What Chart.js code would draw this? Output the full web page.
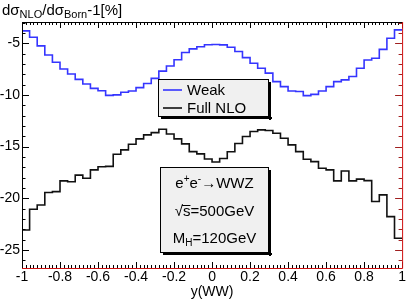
<!DOCTYPE html>
<html lang="en">
<head>
<meta charset="UTF-8">
<title>WWZ rapidity</title>
<script src="https://cdn.jsdelivr.net/npm/chart.js"></script>
<style>
  html, body { margin: 0; padding: 0; background: #fff; }
</style>
</head>
<body>
<canvas id="chart" width="407" height="301"></canvas>
<script>
// histogram range, 50 bins
const binLow = -1, binHigh = 1;

const weakVals = [
  -3.81, -4.42, -5.26, -6.14, -6.85, -7.50, -7.98, -8.50, -8.95, -9.37,
  -9.60, -10.05, -10.00, -9.75, -9.63, -9.30, -8.90, -8.40, -7.70, -7.20,
  -6.60, -5.90, -5.55, -5.35, -5.15, -5.12, -5.16, -5.39, -5.81, -6.40,
  -6.94, -7.42, -7.90, -8.72, -9.20, -9.62, -9.68, -10.07, -9.95, -9.62,
  -9.20, -8.72, -8.55, -8.23, -7.42, -6.62, -6.45, -5.60, -4.52, -3.71
];
const fullVals = [
  -23.07, -21.06, -20.65, -19.45, -19.36, -18.32, -18.40, -17.76, -18.06, -17.26,
  -16.95, -16.92, -15.74, -15.32, -14.78, -14.26, -13.87, -13.65, -13.33, -13.78,
  -14.26, -14.74, -15.49, -15.71, -16.20, -16.50, -16.15, -15.50, -14.70, -14.03,
  -13.55, -13.39, -13.45, -13.71, -14.20, -14.84, -15.49, -16.23, -16.46, -17.10,
  -17.26, -18.32, -17.36, -18.32, -18.15, -18.30, -20.32, -19.68, -21.78, -23.87
];
const seriesNames = ['Weak', 'Full NLO'];
const xTickVals = [-1, -0.8, -0.6, -0.4, -0.2, 0, 0.2, 0.4, 0.6, 0.8, 1];
const yTickVals = [-25, -20, -15, -10, -5];

const FONT = '"Liberation Sans", Arial, Helvetica, sans-serif';

// bin values -> step points (left edges + closing right edge)
function toSteps(vals) {
  const w = (binHigh - binLow) / vals.length;
  const pts = vals.map((v, i) => ({ x: binLow + i * w, y: v }));
  pts.push({ x: binHigh, y: vals[vals.length - 1] });
  return pts;
}

// draw text pieces with sub/superscripts, returns end x
function richText(ctx, parts, x, y) {
  parts.forEach(p => {
    ctx.font = p.size + 'px ' + FONT;
    ctx.fillText(p.t, x, y + (p.dy || 0));
    x += ctx.measureText(p.t).width;
  });
  return x;
}
function richWidth(ctx, parts) {
  let w = 0;
  parts.forEach(p => { ctx.font = p.size + 'px ' + FONT; w += ctx.measureText(p.t).width; });
  return w;
}

function shadowBox(ctx, x0, y0, x1, y1) {
  ctx.fillStyle = '#000';
  ctx.fillRect(x0 + 3, y1, x1 - x0, 2);
  ctx.fillRect(x1, y0 + 3, 2, y1 - y0);
  ctx.fillStyle = '#f0f0f0';
  ctx.fillRect(x0, y0, x1 - x0, y1 - y0);
  ctx.strokeStyle = '#000';
  ctx.lineWidth = 1;
  ctx.strokeRect(x0 + 0.5, y0 + 0.5, x1 - x0 - 1, y1 - y0 - 1);
}

const rootDecor = {
  id: 'rootDecor',
  afterDraw(chart) {
    const { ctx, chartArea: a, scales: { x, y } } = chart;
    ctx.save();
    ctx.lineWidth = 1;

    // x ticks, top and bottom
    for (let i = 0; i <= 100; i++) {
      const v = binLow + i * 0.02;
      const px = Math.round(x.getPixelForValue(v)) + 0.5;
      const len = i % 10 === 0 ? 6 : 3;
      ctx.strokeStyle = '#000';
      ctx.beginPath();
      ctx.moveTo(px, a.top); ctx.lineTo(px, a.top + len);
      ctx.moveTo(px, a.bottom); ctx.lineTo(px, a.bottom - len);
      ctx.stroke();
    }
    // y ticks, left and right
    for (let v = -26; v <= -3; v++) {
      const py = Math.round(y.getPixelForValue(v)) + 0.5;
      const len = v % 5 === 0 ? 7 : 3.5;
      ctx.strokeStyle = '#000';
      ctx.beginPath();
      ctx.moveTo(a.left, py); ctx.lineTo(a.left + len, py);
      ctx.stroke();
      ctx.strokeStyle = '#a02020';
      ctx.beginPath();
      ctx.moveTo(a.right, py); ctx.lineTo(a.right - len, py);
      ctx.stroke();
    }
    // frame
    ctx.strokeStyle = '#000';
    ctx.beginPath();
    ctx.moveTo(a.left + 0.5, a.bottom); ctx.lineTo(a.left + 0.5, a.top + 0.5);
    ctx.lineTo(a.right, a.top + 0.5);
    ctx.stroke();
    ctx.strokeStyle = '#d01010';
    ctx.beginPath();
    ctx.moveTo(a.left, a.bottom + 0.5); ctx.lineTo(a.right + 0.5, a.bottom + 0.5);
    ctx.lineTo(a.right + 0.5, a.top);
    ctx.stroke();

    // y title
    ctx.fillStyle = '#000';
    ctx.textBaseline = 'alphabetic';
    ctx.textAlign = 'left';
    richText(ctx, [
      { t: 'd\u03c3', size: 15 }, { t: 'NLO', size: 11, dy: 3 },
      { t: '/d\u03c3', size: 15 }, { t: 'Born', size: 11, dy: 3 },
      { t: '-1[%]', size: 15 }
    ], 2, 15);

    // legend
    const ds = chart.data.datasets;
    shadowBox(ctx, 158, 79, 269, 117);
    ds.forEach((d, i) => {
      const ly = 90 + i * 18;
      ctx.strokeStyle = d.borderColor;
      ctx.lineWidth = d.borderWidth;
      ctx.beginPath(); ctx.moveTo(163, ly); ctx.lineTo(182, ly); ctx.stroke();
      ctx.fillStyle = '#000';
      ctx.font = '15px ' + FONT;
      ctx.textBaseline = 'middle';
      ctx.fillText(d.label, 187, ly + 1);
    });

    // process box
    shadowBox(ctx, 160, 167, 269, 253);
    ctx.fillStyle = '#000';
    ctx.textBaseline = 'alphabetic';
    const cx = 214.5;
    const l1 = [{ t: 'e', size: 15 }, { t: '+', size: 10, dy: -6 }, { t: 'e', size: 15 },
                { t: '-', size: 10, dy: -6 }, { t: '\u2192WWZ', size: 15 }];
    richText(ctx, l1, cx - richWidth(ctx, l1) / 2, 188);
    const l2 = [{ t: '\u221a', size: 15 }, { t: 's', size: 15 }, { t: '=500GeV', size: 15 }];
    const x2 = cx - richWidth(ctx, l2) / 2;
    richText(ctx, l2, x2, 216);
    ctx.font = '15px ' + FONT;
    const rw = ctx.measureText('\u221a').width, sw = ctx.measureText('s').width;
    ctx.strokeStyle = '#000'; ctx.lineWidth = 1;
    ctx.beginPath(); ctx.moveTo(x2 + rw - 1, 205.5); ctx.lineTo(x2 + rw + sw, 205.5); ctx.stroke();
    const l3 = [{ t: 'M', size: 15 }, { t: 'H', size: 10, dy: 3 }, { t: '=120GeV', size: 15 }];
    richText(ctx, l3, cx - richWidth(ctx, l3) / 2, 243);

    ctx.restore();
  }
};

new Chart(document.getElementById('chart'), {
  type: 'line',
  data: {
    datasets: [
      { label: seriesNames[0], data: toSteps(weakVals), borderColor: '#3535ff', borderWidth: 1.6,
        stepped: 'before', pointRadius: 0, fill: false },
      { label: seriesNames[1], data: toSteps(fullVals), borderColor: '#111', borderWidth: 1.6,
        stepped: 'before', pointRadius: 0, fill: false }
    ]
  },
  options: {
    responsive: false,
    animation: false,
    events: [],
    layout: { padding: { top: 22, right: 4, left: 0, bottom: 0 }, autoPadding: false },
    plugins: { legend: { display: false }, tooltip: { enabled: false } },
    scales: {
      x: {
        type: 'linear', min: binLow, max: binHigh,
        afterBuildTicks: s => { s.ticks = xTickVals.map(v => ({ value: v })); },
        afterFit: s => { s.height = 33; },
        grid: { display: false, drawTicks: false }, border: { display: false },
        ticks: {
          autoSkip: false, maxRotation: 0, padding: 1, color: '#000',
          font: { family: FONT, size: 14 },
          callback: v => String(Number(v.toFixed(1)))
        },
        title: { display: true, text: 'y(WW)', color: '#000', padding: { top: 0, bottom: 0 },
                 font: { family: FONT, size: 14 } }
      },
      y: {
        min: -26.75, max: -2.95,
        afterBuildTicks: s => { s.ticks = yTickVals.map(v => ({ value: v })); },
        afterFit: s => { s.width = 22; },
        grid: { display: false, drawTicks: false }, border: { display: false },
        ticks: { padding: 2, color: '#000', font: { family: FONT, size: 14 } }
      }
    }
  },
  plugins: [rootDecor]
});
</script>
</body>
</html>
